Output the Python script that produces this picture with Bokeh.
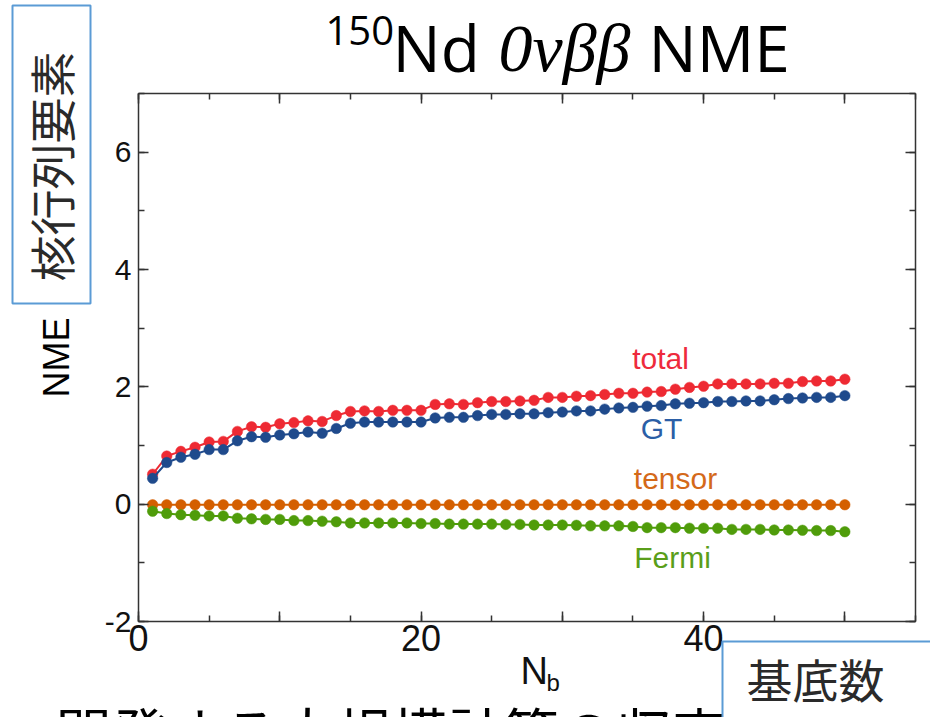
import math
from bokeh.plotting import figure
from bokeh.models import Label, BoxAnnotation, LinearAxis, SingleIntervalTicker, Range1d
from bokeh.embed import file_html
from bokeh.resources import INLINE

# ---------------- data ----------------
nb = list(range(1, 51))
total = [0.51, 0.82, 0.90, 0.97, 1.06, 1.07, 1.24, 1.32, 1.31, 1.37,
         1.39, 1.42, 1.41, 1.51, 1.58, 1.59, 1.58, 1.60, 1.60, 1.60,
         1.70, 1.71, 1.70, 1.73, 1.75, 1.75, 1.76, 1.77, 1.82, 1.82,
         1.84, 1.85, 1.87, 1.89, 1.89, 1.91, 1.92, 1.96, 1.99, 2.01,
         2.05, 2.05, 2.05, 2.05, 2.06, 2.06, 2.09, 2.10, 2.10, 2.13]
gt = [0.44, 0.71, 0.80, 0.85, 0.93, 0.93, 1.08, 1.15, 1.14, 1.18,
      1.20, 1.23, 1.21, 1.29, 1.38, 1.40, 1.40, 1.40, 1.40, 1.40,
      1.47, 1.48, 1.48, 1.51, 1.53, 1.53, 1.54, 1.54, 1.56, 1.57,
      1.59, 1.59, 1.62, 1.64, 1.65, 1.67, 1.68, 1.71, 1.72, 1.73,
      1.75, 1.75, 1.76, 1.76, 1.78, 1.80, 1.81, 1.82, 1.82, 1.85]
tensor = [-0.01, -0.01, -0.01, -0.01, -0.01, -0.01, -0.01, -0.01, -0.01, -0.01,
          -0.01, -0.01, -0.01, -0.01, -0.01, -0.01, -0.01, -0.01, -0.01, -0.01,
          -0.01, -0.01, -0.01, -0.01, -0.01, -0.01, -0.01, -0.01, -0.01, -0.01,
          -0.01, -0.01, -0.01, -0.01, -0.01, -0.01, -0.01, -0.01, -0.01, -0.01,
          -0.01, -0.01, -0.01, -0.01, -0.01, -0.01, -0.01, -0.01, -0.01, -0.01]
fermi = [-0.12, -0.16, -0.18, -0.19, -0.20, -0.20, -0.24, -0.25, -0.26, -0.26,
         -0.28, -0.28, -0.29, -0.30, -0.32, -0.32, -0.32, -0.32, -0.32, -0.33,
         -0.33, -0.34, -0.34, -0.34, -0.34, -0.345, -0.345, -0.355, -0.355, -0.355,
         -0.36, -0.37, -0.37, -0.37, -0.38, -0.40, -0.40, -0.40, -0.41, -0.41,
         -0.41, -0.43, -0.43, -0.43, -0.44, -0.44, -0.445, -0.45, -0.45, -0.47]

series_names = ["total", "GT", "tensor", "Fermi"]
x_tick_labels = {0: "0", 10: "", 20: "20", 30: "", 40: "40", 50: ""}
y_tick_labels = {-2: "-2", 0: "0", 2: "2", 4: "4", 6: "6"}
blank_x = {0: "", 10: "", 20: "", 30: "", 40: "", 50: ""}
blank_y = {-2: "", 0: "", 2: "", 4: "", 6: ""}

# ---------------- layout ----------------
W, H = 930, 717
FL, FR, FT, FB = 138, 915, 93, 621   # chart box edges in page px
X0, X1, Y0, Y1 = 0, 55, -2, 7        # chart box data extent


def dx(px):
    return X0 + (px - FL) * (X1 - X0) / (FR - FL)


def dy(py):
    return Y0 + (FB - py) * (Y1 - Y0) / (FB - FT)


p = figure(width=W, height=H, output_backend="svg", toolbar_location=None,
           x_range=Range1d(dx(0), dx(W)), y_range=Range1d(dy(H), dy(0)),
           x_axis_location=None, y_axis_location=None,
           min_border=0, min_border_left=0, min_border_right=0,
           min_border_top=0, min_border_bottom=0)
p.grid.visible = False
p.outline_line_color = None
p.background_fill_color = "white"
p.border_fill_color = "white"

AX = "#333333"


def style_axis(ax, font_size):
    ax.axis_line_color = AX
    ax.axis_line_width = 1.5
    ax.major_tick_line_color = AX
    ax.major_tick_line_width = 1.5
    ax.minor_tick_line_color = AX
    ax.minor_tick_line_width = 1.5
    ax.major_tick_in = 10
    ax.major_tick_out = 0
    ax.minor_tick_in = 6
    ax.minor_tick_out = 0
    ax.major_label_text_font = "Liberation Sans"
    ax.major_label_text_color = "#111111"
    ax.major_label_text_font_size = font_size
    ax.major_label_standoff = 5


xt = SingleIntervalTicker(interval=10, num_minor_ticks=2)
yt = SingleIntervalTicker(interval=2, num_minor_ticks=2)

bottom = LinearAxis(ticker=xt, major_label_overrides=x_tick_labels,
                    fixed_location=Y0, bounds=(X0, X1))
style_axis(bottom, "36px")
bottom.major_label_standoff = 3
top = LinearAxis(ticker=xt, major_label_overrides=blank_x,
                 fixed_location=Y1, bounds=(X0, X1))
style_axis(top, "10px")
left = LinearAxis(ticker=yt, major_label_overrides=y_tick_labels,
                  fixed_location=X0, bounds=(Y0, Y1))
style_axis(left, "30px")
left.major_label_standoff = 7
right = LinearAxis(ticker=yt, major_label_overrides=blank_y,
                   fixed_location=X1, bounds=(Y0, Y1))
style_axis(right, "10px")
p.add_layout(bottom, "below")
p.add_layout(top, "above")
p.add_layout(left, "left")
p.add_layout(right, "right")

# ---------------- series ----------------
colors = {"total": "#ee2a33", "GT": "#1f4a8c", "tensor": "#d45f00", "Fermi": "#4f9c0a"}
label_colors = {"total": "#ee2a3c", "GT": "#2b5ea6", "tensor": "#d4691a", "Fermi": "#5a9e1a"}
data = {"total": total, "GT": gt, "tensor": tensor, "Fermi": fermi}
for name in ["tensor", "Fermi", "total", "GT"]:
    c = colors[name]
    p.line(nb, data[name], line_color=c, line_width=2)
    p.scatter(nb, data[name], size=10.5, fill_color=c, line_color=c, line_width=0.5)

# inline series labels (page px centres)
lab_pos = {"total": (660, 358), "GT": (661, 428), "tensor": (675, 478), "Fermi": (672, 557)}
for name in series_names:
    px, py = lab_pos[name]
    p.add_layout(Label(x=dx(px), y=dy(py), text=name, text_align="center",
                       text_baseline="middle", text_font="Liberation Sans",
                       text_font_size="30px", text_color=label_colors[name]))

# ---------------- title ----------------
p.add_layout(Label(x=dx(325), y=dy(30), text="150", text_font="Open Sans",
                   text_font_size="40px", text_color="black", text_baseline="middle"))
p.add_layout(Label(x=dx(392), y=dy(47), text="Nd", text_font="Open Sans",
                   text_font_size="64px", text_color="black", text_baseline="middle"))
p.add_layout(Label(x=dx(498), y=dy(47), text="0\u03bd\u03b2\u03b2", text_font="Liberation Serif",
                   text_font_style="italic", text_font_size="68px", text_color="black",
                   text_baseline="middle"))
p.add_layout(Label(x=dx(648), y=dy(47), text="NME", text_font="Open Sans",
                   text_font_size="64px", text_color="black", text_baseline="middle"))

# y axis title
p.add_layout(Label(x=dx(56), y=dy(357), text="NME", angle=math.pi / 2, text_align="center",
                   text_baseline="middle", text_font="Liberation Sans",
                   text_font_size="36px", text_color="black"))
# x axis title N_b
p.add_layout(Label(x=dx(520), y=dy(670), text="N", text_font="Liberation Sans",
                   text_font_size="38px", text_color="#111111", text_baseline="middle"))
p.add_layout(Label(x=dx(546), y=dy(682), text="b", text_font="Liberation Sans",
                   text_font_size="24px", text_color="#111111", text_baseline="middle"))

# ---------------- slide overlays ----------------
BOXC = "#5b9bd5"
p.add_layout(BoxAnnotation(left=dx(12), right=dx(90), top=dy(5), bottom=dy(303),
                           fill_color="white", fill_alpha=1.0, line_color=BOXC,
                           line_alpha=1.0, line_width=2, level="overlay"))
p.add_layout(Label(x=dx(49), y=dy(166), text="核行列要素", angle=math.pi / 2,
                   text_align="center", text_baseline="middle", text_font="Noto Sans CJK JP",
                   text_font_size="46px", text_color="#2a2a2a", level="overlay"))

p.add_layout(Label(x=dx(55), y=dy(689), text="開発する大規模計算の収束性", text_font="Noto Sans CJK JP",
                   text_font_size="56px", text_color="black", text_baseline="top", level="overlay"))
p.add_layout(BoxAnnotation(left=dx(722), right=dx(940), top=dy(641), bottom=dy(740),
                           fill_color="white", fill_alpha=1.0, line_color=BOXC,
                           line_alpha=1.0, line_width=2, level="overlay"))
p.add_layout(Label(x=dx(815), y=dy(677), text="基底数", text_align="center",
                   text_baseline="middle", text_font="Noto Sans CJK JP",
                   text_font_size="46px", text_color="#2a2a2a", level="overlay"))

open("out.html", "w").write(file_html(p, INLINE))
